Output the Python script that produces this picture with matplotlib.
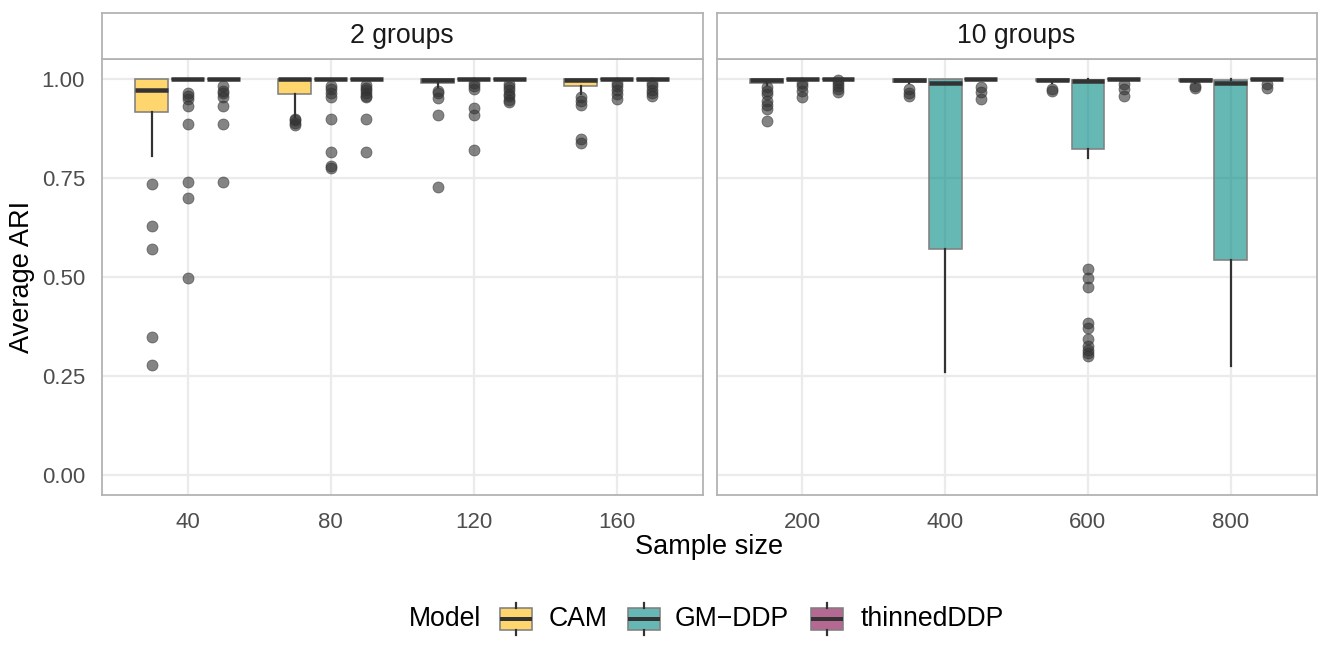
import matplotlib
matplotlib.use('Agg')
import matplotlib.pyplot as plt
from matplotlib.patches import Rectangle
from matplotlib.lines import Line2D

plt.rcParams['font.family'] = ['Liberation Sans', 'DejaVu Sans']

# ---------------- data ----------------
models = ["CAM", "GM\u2212DDP", "thinnedDDP"]
model_colors = ["#FFBB0D", "#008A85", "#850349"]

facet_titles = ["2 groups", "10 groups"]
sizes_2 = ["40", "80", "120", "160"]
sizes_10 = ["200", "400", "600", "800"]

# 2 groups
CAM_2_q1 = [0.916, 0.962, 0.989, 0.983]
CAM_2_med = [0.973, 1.000, 0.998, 0.998]
CAM_2_q3 = [1.000, 1.000, 1.000, 1.000]
CAM_2_lo = [0.807, 0.905, 0.979, 0.962]
CAM_2_hi = [1.000, 1.000, 1.000, 1.000]
CAM_2_out = [[0.735, 0.629, 0.570, 0.350, 0.279],
             [0.900, 0.896, 0.890, 0.883],
             [0.970, 0.965, 0.953, 0.909, 0.728],
             [0.954, 0.945, 0.935, 0.849, 0.838]]

GM_2_q1 = [1.000, 1.000, 1.000, 1.000]
GM_2_med = [1.000, 1.000, 1.000, 1.000]
GM_2_q3 = [1.000, 1.000, 1.000, 1.000]
GM_2_lo = [1.000, 1.000, 1.000, 1.000]
GM_2_hi = [1.000, 1.000, 1.000, 1.000]
GM_2_out = [[0.966, 0.958, 0.950, 0.933, 0.887, 0.741, 0.699, 0.498],
            [0.982, 0.975, 0.965, 0.955, 0.900, 0.817, 0.780, 0.775],
            [0.991, 0.983, 0.976, 0.927, 0.909, 0.822],
            [0.990, 0.982, 0.972, 0.963, 0.950]]

TH_2_q1 = [1.000, 1.000, 1.000, 1.000]
TH_2_med = [1.000, 1.000, 1.000, 1.000]
TH_2_q3 = [1.000, 1.000, 1.000, 1.000]
TH_2_lo = [1.000, 1.000, 1.000, 1.000]
TH_2_hi = [1.000, 1.000, 1.000, 1.000]
TH_2_out = [[0.982, 0.970, 0.965, 0.954, 0.933, 0.887, 0.741],
            [0.985, 0.978, 0.972, 0.965, 0.958, 0.955, 0.900, 0.817],
            [0.988, 0.980, 0.972, 0.963, 0.957, 0.948, 0.943],
            [0.990, 0.982, 0.972, 0.965, 0.958]]

# 10 groups
CAM_10_q1 = [0.990, 0.993, 0.994, 0.994]
CAM_10_med = [0.998, 0.997, 0.997, 0.997]
CAM_10_q3 = [1.000, 1.000, 1.000, 1.000]
CAM_10_lo = [0.985, 0.990, 0.990, 0.990]
CAM_10_hi = [1.000, 1.000, 1.000, 1.000]
CAM_10_out = [[0.979, 0.970, 0.962, 0.945, 0.935, 0.925, 0.895],
              [0.976, 0.965, 0.957],
              [0.975, 0.970],
              [0.983, 0.978]]

GM_10_q1 = [1.000, 0.572, 0.824, 0.544]
GM_10_med = [1.000, 0.991, 0.996, 0.991]
GM_10_q3 = [1.000, 1.000, 0.999, 0.999]
GM_10_lo = [1.000, 0.260, 0.801, 0.275]
GM_10_hi = [1.000, 1.000, 1.000, 1.000]
GM_10_out = [[0.991, 0.983, 0.970, 0.954],
             [],
             [0.520, 0.497, 0.475, 0.383, 0.372, 0.345, 0.325, 0.315, 0.308, 0.302],
             []]

TH_10_q1 = [1.000, 1.000, 1.000, 1.000]
TH_10_med = [1.000, 1.000, 1.000, 1.000]
TH_10_q3 = [1.000, 1.000, 1.000, 1.000]
TH_10_lo = [1.000, 1.000, 1.000, 1.000]
TH_10_hi = [1.000, 1.000, 1.000, 1.000]
TH_10_out = [[0.998, 0.990, 0.983, 0.975, 0.968],
             [0.979, 0.968, 0.950],
             [0.988, 0.975, 0.958],
             [0.988, 0.978]]

facet_data = [
    [(CAM_2_q1, CAM_2_med, CAM_2_q3, CAM_2_lo, CAM_2_hi, CAM_2_out),
     (GM_2_q1, GM_2_med, GM_2_q3, GM_2_lo, GM_2_hi, GM_2_out),
     (TH_2_q1, TH_2_med, TH_2_q3, TH_2_lo, TH_2_hi, TH_2_out)],
    [(CAM_10_q1, CAM_10_med, CAM_10_q3, CAM_10_lo, CAM_10_hi, CAM_10_out),
     (GM_10_q1, GM_10_med, GM_10_q3, GM_10_lo, GM_10_hi, GM_10_out),
     (TH_10_q1, TH_10_med, TH_10_q3, TH_10_lo, TH_10_hi, TH_10_out)],
]
facet_sizes = [sizes_2, sizes_10]
yticks = [0.00, 0.25, 0.50, 0.75, 1.00]

# ---------------- figure ----------------
W, H = 1329, 664
DPI = 100
fig = plt.figure(figsize=(W / DPI, H / DPI), dpi=DPI)
PT = 72.0 / DPI  # points per pixel


def rect_px(x0, y0, x1, y1):
    return [x0 / W, 1 - y1 / H, (x1 - x0) / W, (y1 - y0) / H]


BORDER = "#b3b3b3"
GRID = "#ebebeb"
TICKC = "#4d4d4d"
DARK = "#333333"
EDGE = "#808080"

panel_x = [(101.7, 702.5), (716.5, 1316.5)]
panel_top, panel_bot = 59.3, 495.0
strip_top = 12.7

offsets = [-0.25, 0.0, 0.25]
bw = 0.23

for f, (x0, x1) in enumerate(panel_x):
    ax = fig.add_axes(rect_px(x0, panel_top, x1, panel_bot))
    ax.set_xlim(-0.6, 3.6)
    ax.set_ylim(-0.05, 1.05)
    ax.set_facecolor("white")
    for s in ax.spines.values():
        s.set_color(BORDER)
        s.set_linewidth(1.3)
    ax.set_yticks(yticks)
    ax.set_xticks(range(len(facet_sizes[f])))
    ax.set_xticklabels(facet_sizes[f])
    ax.grid(True, color=GRID, linewidth=1.6 * PT * 1.4)
    ax.set_axisbelow(True)
    ax.tick_params(length=0, labelsize=16, colors=TICKC, pad=12)
    if f == 0:
        ax.set_yticklabels(["%.2f" % v for v in yticks])
    else:
        ax.set_yticklabels([])

    for m, (q1, med, q3, lo, hi, out) in enumerate(facet_data[f]):
        stats = []
        for i in range(len(q1)):
            stats.append(dict(q1=q1[i], med=med[i], q3=q3[i],
                              whislo=lo[i], whishi=hi[i], fliers=out[i]))
        pos = [i + offsets[m] for i in range(len(q1))]
        ax.bxp(stats, positions=pos, widths=bw, patch_artist=True,
               showcaps=False, manage_ticks=False,
               boxprops=dict(facecolor=model_colors[m] + "99", edgecolor=EDGE,
                             linewidth=1.6 * PT),
               medianprops=dict(color=DARK, linewidth=4.5 * PT,
                                solid_capstyle="butt"),
               whiskerprops=dict(color=DARK, linewidth=2.2 * PT),
               flierprops=dict(marker="o", markerfacecolor=DARK,
                               markeredgecolor=DARK, alpha=0.6,
                               markersize=11 * PT, markeredgewidth=0.8 * PT))

    # strip
    sax = fig.add_axes(rect_px(x0, strip_top, x1, panel_top))
    sax.set_xticks([])
    sax.set_yticks([])
    sax.set_facecolor("white")
    for s in sax.spines.values():
        s.set_color(BORDER)
        s.set_linewidth(1.3)
    sax.text(0.5, 0.5, facet_titles[f], transform=sax.transAxes,
             ha="center", va="center", fontsize=19.2, color="#1a1a1a")

# axis titles
fig.text(22 / W, 1 - 277 / H, "Average ARI", rotation=90, ha="center",
         va="center", fontsize=19.5, color="black")
fig.text(709 / W, 1 - 547 / H, "Sample size", ha="center", va="center",
         fontsize=19.5, color="black")

# legend (drawn in pixel coordinates)
lax = fig.add_axes([0, 0, 1, 1])
lax.set_xlim(0, W)
lax.set_ylim(H, 0)
lax.axis("off")
lax.patch.set_alpha(0)
ly = 619
lax.text(409, ly, "Model", ha="left", va="center", fontsize=19.2, color="black")
key_x = [500, 628, 811]
lab_x = [549, 675, 861]
kt, kb = 607.5, 630.0
for k in range(3):
    kx = key_x[k]
    lax.add_line(Line2D([kx + 16, kx + 16], [603, kt], color=DARK,
                        linewidth=2.2 * PT))
    lax.add_line(Line2D([kx + 16, kx + 16], [kb, 634.5], color=DARK,
                        linewidth=2.2 * PT))
    lax.add_patch(Rectangle((kx, kt), 32, kb - kt, facecolor=model_colors[k] + "99",
                            edgecolor=EDGE, linewidth=1.6 * PT))
    lax.add_line(Line2D([kx, kx + 32], [618.5, 618.5], color=DARK,
                        linewidth=4.0 * PT, solid_capstyle="butt"))
    lax.text(lab_x[k], ly, models[k], ha="left", va="center", fontsize=19.2,
             color="black")

fig.savefig("out.png", dpi=DPI, facecolor="white")
